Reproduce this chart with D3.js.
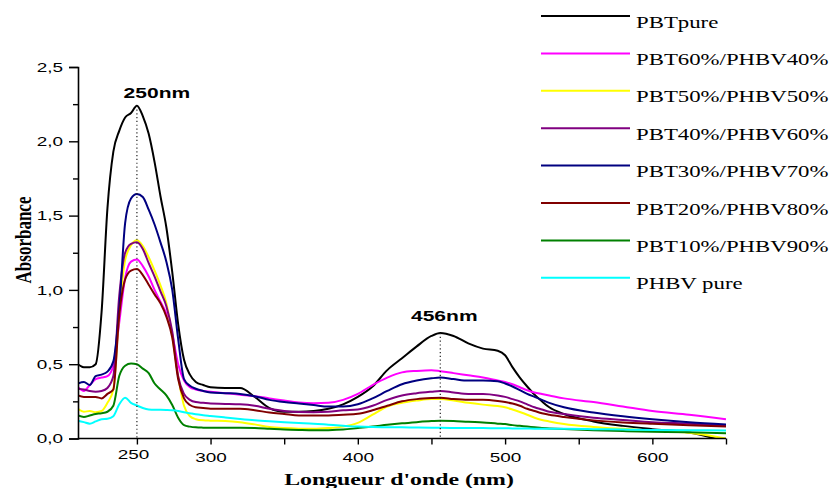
<!DOCTYPE html>
<html><head><meta charset="utf-8">
<script src="https://cdn.jsdelivr.net/npm/d3@7"></script>
<style>body{margin:0;background:#fff}svg{display:block}</style>
</head><body>
<svg id="chart" width="834" height="488"></svg>
<script>
// ---------- DATA ----------
const wavelengths = [210,214,218,222,226,230,234,238,242,246,250,254,258,262,266,270,274,278,282,286,290,295,300,310,320,330,340,350,360,370,380,390,400,410,420,430,440,450,456,465,475,485,495,500,505,510,515,520,525,530,540,560,580,600,625,650];

const pbtPure = [0.50,0.48,0.48,0.50,0.85,1.55,1.93,2.07,2.16,2.19,2.24,2.17,2.05,1.86,1.63,1.42,1.12,0.77,0.53,0.43,0.38,0.36,0.345,0.34,0.34,0.28,0.205,0.18,0.18,0.185,0.20,0.23,0.28,0.35,0.46,0.54,0.62,0.69,0.71,0.69,0.64,0.605,0.59,0.56,0.48,0.41,0.35,0.295,0.25,0.21,0.165,0.115,0.085,0.063,0.04,-0.02];
const pbt60 = [0.345,0.32,0.36,0.40,0.41,0.42,0.49,0.78,1.08,1.19,1.205,1.16,1.09,1.00,0.92,0.84,0.70,0.50,0.39,0.345,0.33,0.32,0.315,0.305,0.295,0.285,0.27,0.255,0.242,0.237,0.24,0.26,0.30,0.36,0.41,0.445,0.455,0.46,0.453,0.44,0.425,0.41,0.39,0.38,0.365,0.345,0.325,0.31,0.30,0.29,0.27,0.245,0.215,0.185,0.16,0.13];
const pbt50 = [0.20,0.18,0.185,0.177,0.185,0.24,0.33,0.85,1.20,1.30,1.334,1.295,1.22,1.13,1.03,0.91,0.69,0.42,0.22,0.15,0.13,0.122,0.12,0.118,0.11,0.095,0.078,0.07,0.066,0.065,0.07,0.08,0.105,0.16,0.215,0.24,0.255,0.265,0.265,0.255,0.24,0.228,0.218,0.21,0.195,0.178,0.16,0.14,0.125,0.115,0.098,0.078,0.065,0.054,0.038,0.0];
const pbt40 = [0.335,0.33,0.32,0.315,0.32,0.34,0.42,0.96,1.25,1.31,1.32,1.275,1.18,1.09,0.99,0.89,0.72,0.42,0.30,0.26,0.245,0.24,0.235,0.233,0.23,0.22,0.20,0.185,0.178,0.177,0.18,0.19,0.195,0.22,0.26,0.29,0.305,0.315,0.32,0.31,0.30,0.30,0.29,0.28,0.265,0.25,0.23,0.21,0.195,0.18,0.165,0.14,0.125,0.11,0.10,0.088];
const pbt30 = [0.37,0.38,0.36,0.42,0.43,0.45,0.52,0.87,1.45,1.615,1.645,1.625,1.54,1.44,1.32,1.19,1.00,0.67,0.40,0.355,0.335,0.32,0.31,0.305,0.30,0.285,0.26,0.245,0.235,0.225,0.215,0.215,0.23,0.27,0.32,0.365,0.39,0.405,0.41,0.40,0.39,0.39,0.385,0.37,0.35,0.325,0.30,0.28,0.26,0.24,0.21,0.175,0.15,0.13,0.11,0.095];
const pbt20 = [0.29,0.28,0.28,0.28,0.27,0.30,0.33,0.83,1.07,1.13,1.14,1.10,1.035,0.97,0.91,0.82,0.68,0.40,0.27,0.225,0.21,0.205,0.20,0.20,0.20,0.19,0.175,0.165,0.155,0.155,0.155,0.16,0.166,0.19,0.22,0.25,0.265,0.272,0.274,0.265,0.26,0.26,0.252,0.245,0.235,0.22,0.20,0.185,0.17,0.16,0.145,0.122,0.108,0.099,0.09,0.08];
const pbt10 = [0.155,0.145,0.155,0.165,0.17,0.18,0.22,0.42,0.49,0.505,0.50,0.47,0.44,0.37,0.33,0.29,0.225,0.14,0.09,0.08,0.075,0.073,0.072,0.072,0.072,0.07,0.065,0.06,0.057,0.055,0.056,0.06,0.07,0.08,0.092,0.102,0.11,0.117,0.12,0.118,0.112,0.108,0.10,0.097,0.09,0.085,0.08,0.075,0.07,0.068,0.064,0.056,0.05,0.045,0.042,0.036];
const phbvPure = [0.12,0.11,0.10,0.115,0.13,0.133,0.15,0.23,0.275,0.24,0.222,0.205,0.195,0.193,0.193,0.192,0.19,0.185,0.177,0.17,0.163,0.157,0.152,0.142,0.132,0.123,0.116,0.11,0.105,0.10,0.093,0.086,0.08,0.077,0.076,0.075,0.074,0.073,0.072,0.071,0.07,0.07,0.069,0.069,0.068,0.068,0.067,0.066,0.066,0.065,0.065,0.063,0.06,0.058,0.056,0.054];

const seriesNames = ["PBTpure","PBT60%/PHBV40%","PBT50%/PHBV50%","PBT40%/PHBV60%","PBT30%/PHBV70%","PBT20%/PHBV80%","PBT10%/PHBV90%","PHBV pure"];
const seriesValues = [pbtPure, pbt60, pbt50, pbt40, pbt30, pbt20, pbt10, phbvPure];
const seriesColors = ["#000000","#ff00ff","#ffff00","#800080","#000080","#800000","#008000","#00ffff"];

const yTickValues = [0, 0.5, 1.0, 1.5, 2.0, 2.5];
const yTickLabels = ["0,0","0,5","1,0","1,5","2,0","2,5"];
const yMinorTicks = [0.25, 0.75, 1.25, 1.75, 2.25];
const xTickValues = [250, 300, 350, 400, 450, 500, 550, 600, 650];
const xTickLabels = ["250","300","","400","","500","","600",""];
const peakWavelengths = [250, 456];
const peakLabels = ["250nm", "456nm"];

const xTitle = "Longueur d'onde (nm)";
const yTitle = "Absorbance";

// ---------- LAYOUT ----------
const STRETCH = 1.4; // reference is horizontally stretched
const svg = d3.select("#chart");
const plotLeft = 78, plotRight = 726, plotTop = 67, plotBottom = 438.5;
const x = d3.scaleLinear().domain([210, 650]).range([plotLeft, plotRight]);
const y = d3.scaleLinear().domain([0, 2.5]).range([plotBottom, plotTop]);

function stretch(sel, k) {
  sel.each(function () {
    const w = this.getComputedTextLength();
    this.setAttribute("textLength", w * (k || STRETCH));
    this.setAttribute("lengthAdjust", "spacingAndGlyphs");
  });
}

svg.append("defs").append("clipPath").attr("id", "plotclip")
  .append("rect").attr("x", plotLeft).attr("y", 0)
  .attr("width", plotRight - plotLeft).attr("height", plotBottom - 0.5);

// series lines
const line = d3.line()
  .x((d, i) => x(wavelengths[i]))
  .y(d => y(d))
  .curve(d3.curveMonotoneX);

const gLines = svg.append("g").attr("clip-path", "url(#plotclip)");
seriesValues.forEach((vals, i) => {
  gLines.append("path")
    .attr("d", line(vals))
    .attr("fill", "none")
    .attr("stroke", seriesColors[i])
    .attr("stroke-width", 2)
    .attr("stroke-linejoin", "round");
});

// dotted peak markers
const labelOffsets = [{dx: 20, dy: -8}, {dx: 4, dy: -12}];
peakWavelengths.forEach((wl, i) => {
  const idx = wavelengths.indexOf(wl);
  const peak = pbtPure[idx];
  svg.append("line")
    .attr("x1", x(wl)).attr("x2", x(wl))
    .attr("y1", y(peak)).attr("y2", plotBottom)
    .attr("stroke", "#222").attr("stroke-width", 1.2)
    .attr("stroke-dasharray", "1.2,2.6");
  svg.append("text")
    .attr("x", x(wl) + labelOffsets[i].dx)
    .attr("y", y(peak) + labelOffsets[i].dy)
    .attr("text-anchor", "middle")
    .attr("font-family", "Liberation Sans, Arial, sans-serif")
    .attr("font-weight", "bold")
    .attr("font-size", 15)
    .attr("fill", "#000")
    .text(peakLabels[i])
    .call(stretch);
});

// Y axis
const yAxis = d3.axisLeft(y).tickValues(yTickValues)
  .tickFormat((d, i) => yTickLabels[i]).tickSize(9).tickPadding(6);
const gy = svg.append("g").attr("transform", `translate(${plotLeft},0)`).call(yAxis);
gy.select(".domain").attr("stroke", "#000").attr("stroke-width", 1.6);
gy.selectAll(".tick line").attr("stroke", "#000").attr("stroke-width", 1.4);
gy.selectAll(".tick text").attr("font-family", "Liberation Sans, Arial, sans-serif")
  .attr("font-size", 13.5).attr("fill", "#000").call(stretch);
const yMinor = d3.axisLeft(y).tickValues(yMinorTicks).tickFormat("").tickSize(5);
const gym = svg.append("g").attr("transform", `translate(${plotLeft},0)`).call(yMinor);
gym.select(".domain").remove();
gym.selectAll(".tick line").attr("stroke", "#000").attr("stroke-width", 1.4);

// X axis
const xAxis = d3.axisBottom(x).tickValues(xTickValues)
  .tickFormat((d, i) => xTickLabels[i]).tickSize(6).tickPadding(8);
const gx = svg.append("g").attr("transform", `translate(0,${plotBottom})`).call(xAxis);
gx.select(".domain").attr("stroke", "#000").attr("stroke-width", 1.6)
  .attr("d", `M${plotLeft},0H${plotRight}`);
gx.selectAll(".tick line").attr("stroke", "#000").attr("stroke-width", 1.4);
gx.selectAll(".tick text").attr("font-family", "Liberation Sans, Arial, sans-serif")
  .attr("font-size", 13.5).attr("fill", "#000")
  .filter(d => d === 250).attr("dx", -4).attr("dy", "0.5em");
gx.selectAll(".tick text").call(stretch);

// axis titles
svg.append("text")
  .attr("x", 399).attr("y", 485)
  .attr("text-anchor", "middle")
  .attr("font-family", "Liberation Serif, Times New Roman, serif")
  .attr("font-weight", "bold").attr("font-size", 17)
  .text(xTitle).call(stretch);

svg.append("text")
  .attr("transform", `translate(31,240) scale(${STRETCH},1) rotate(-90)`)
  .attr("text-anchor", "middle")
  .attr("font-family", "Liberation Serif, Times New Roman, serif")
  .attr("font-weight", "bold").attr("font-size", 17)
  .text(yTitle);

// legend
const legendX1 = 541, legendX2 = 630, legendTextX = 636, legendY0 = 16, legendStep = 37.4;
seriesNames.forEach((name, i) => {
  const yy = legendY0 + i * legendStep;
  svg.append("line").attr("x1", legendX1).attr("x2", legendX2)
    .attr("y1", yy).attr("y2", yy)
    .attr("stroke", seriesColors[i]).attr("stroke-width", 2);
  svg.append("text").attr("x", legendTextX).attr("y", yy + 11.5)
    .attr("font-family", "Liberation Serif, Times New Roman, serif")
    .attr("font-size", 16.3).attr("fill", "#000")
    .text(name).call(stretch);
});
</script>
</body></html>
